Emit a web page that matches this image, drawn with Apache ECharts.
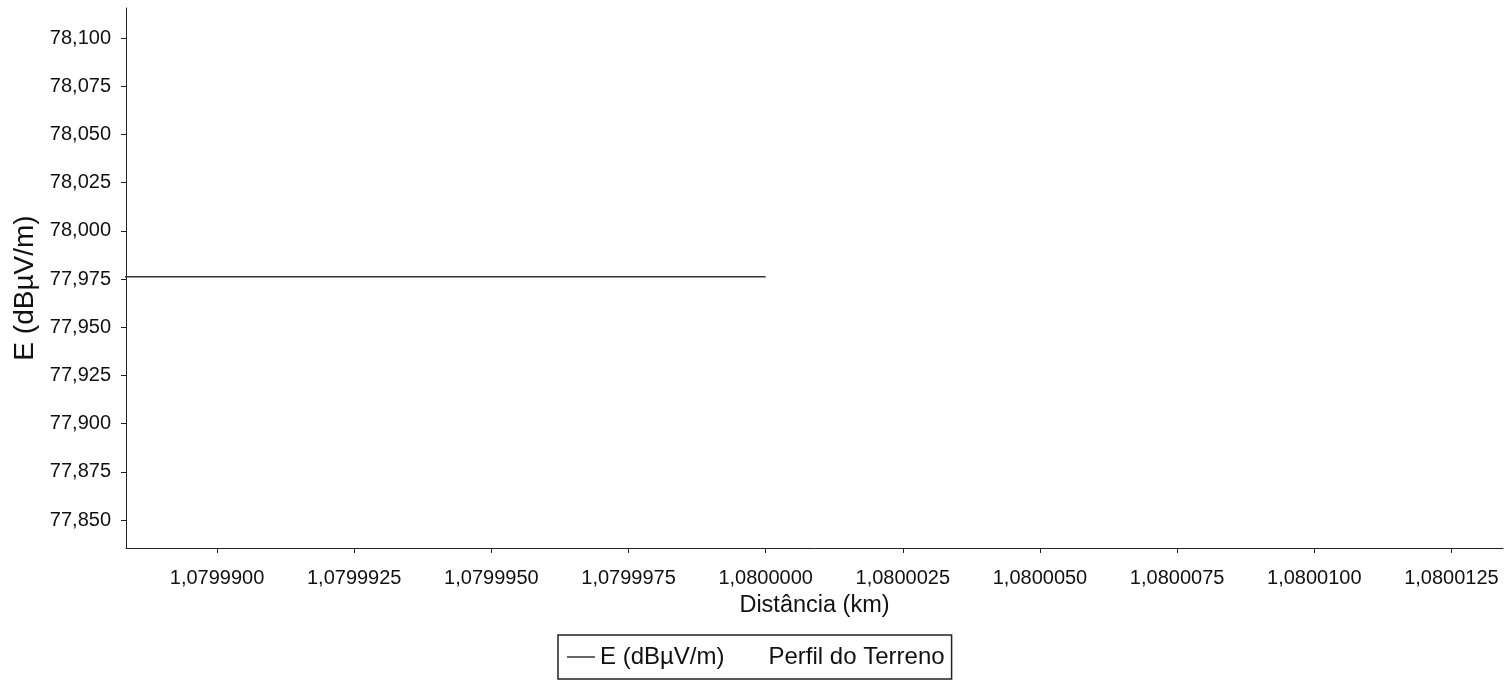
<!DOCTYPE html>
<html>
<head>
<meta charset="utf-8">
<script src="https://cdn.jsdelivr.net/npm/echarts@6/dist/echarts.min.js"></script>
<style>
html,body{margin:0;padding:0;background:#fff;}
#chart{width:1508px;height:681px;}
</style>
</head>
<body>
<div id="chart"></div>
<script>
// Data
var seriesNames = ['E (dBµV/m)', 'Perfil do Terreno'];
var distanceKm = [1.0799880, 1.0800000];
var fieldE = [77.9762, 77.9762];
var terrain = [];
var xTicks = [1.0799900, 1.0799925, 1.0799950, 1.0799975, 1.0800000, 1.0800025, 1.0800050, 1.0800075, 1.0800100, 1.0800125];
var yTicks = [77.850, 77.875, 77.900, 77.925, 77.950, 77.975, 78.000, 78.025, 78.050, 78.075, 78.100];
var xRange = [1.07998834, 1.08001344];
var yRange = [77.8355, 78.1156];

var chart = echarts.init(document.getElementById('chart'));
var font = 'Liberation Sans, Arial, sans-serif';
var eData = distanceKm.map(function (d, i) { return [d, fieldE[i]]; });

chart.setOption({
  animation: false,
  backgroundColor: '#ffffff',
  grid: { left: 126, top: 8, right: 5, bottom: 133, containLabel: false },
  xAxis: {
    type: 'value',
    min: xRange[0], max: xRange[1],
    name: 'Distância (km)',
    nameLocation: 'middle',
    nameGap: 46,
    nameTextStyle: { fontFamily: font, fontSize: 23.5, color: '#111' },
    axisLine: { show: true, onZero: false, lineStyle: { color: '#222', width: 1 } },
    axisTick: { show: true, inside: false, length: 5, customValues: xTicks, lineStyle: { color: '#222' } },
    axisLabel: {
      customValues: xTicks,
      margin: 20,
      fontFamily: font, fontSize: 20, color: '#111',
      formatter: function (v) { return v.toFixed(7).replace('.', ','); }
    },
    splitLine: { show: false }
  },
  yAxis: {
    type: 'value',
    min: yRange[0], max: yRange[1],
    name: 'E (dBµV/m)',
    nameLocation: 'middle',
    nameGap: 86,
    nameRotate: 90,
    nameTextStyle: { fontFamily: font, fontSize: 28, color: '#111', padding: [0, 20, 0, 0] },
    axisLine: { show: true, onZero: false, lineStyle: { color: '#222', width: 1 } },
    axisTick: { show: true, inside: false, length: 5, customValues: yTicks, lineStyle: { color: '#222' } },
    axisLabel: {
      customValues: yTicks,
      margin: 15,
      fontFamily: font, fontSize: 20, color: '#111',
      formatter: function (v) { return v.toFixed(3).replace('.', ','); }
    },
    splitLine: { show: false }
  },
  legend: {
    left: 558, top: 635,
    orient: 'horizontal',
    padding: [10, 7, 10, 9],
    itemGap: 11,
    itemWidth: 28,
    itemHeight: 14,
    symbolKeepAspect: true,
    borderColor: '#222',
    borderWidth: 1.5,
    borderRadius: 0,
    textStyle: { fontFamily: font, fontSize: 24, color: '#111' },
    data: [
      { name: seriesNames[0], icon: 'path://M0 0H28V1.5H0Z', itemStyle: { color: '#333' } },
      { name: seriesNames[1], icon: 'path://M0 0H28V1.5H0Z', itemStyle: { opacity: 0 }, lineStyle: { opacity: 0 } }
    ]
  },
  series: [
    {
      name: seriesNames[0],
      type: 'line',
      data: eData,
      symbol: 'none',
      showSymbol: false,
      clip: true,
      lineStyle: { color: '#333', width: 1.5 },
      itemStyle: { color: '#333' }
    },
    {
      name: seriesNames[1],
      type: 'line',
      data: terrain,
      symbol: 'none',
      lineStyle: { color: '#333', width: 1.5, opacity: 0 },
      itemStyle: { color: '#333', opacity: 0 }
    }
  ]
});
</script>
</body>
</html>
